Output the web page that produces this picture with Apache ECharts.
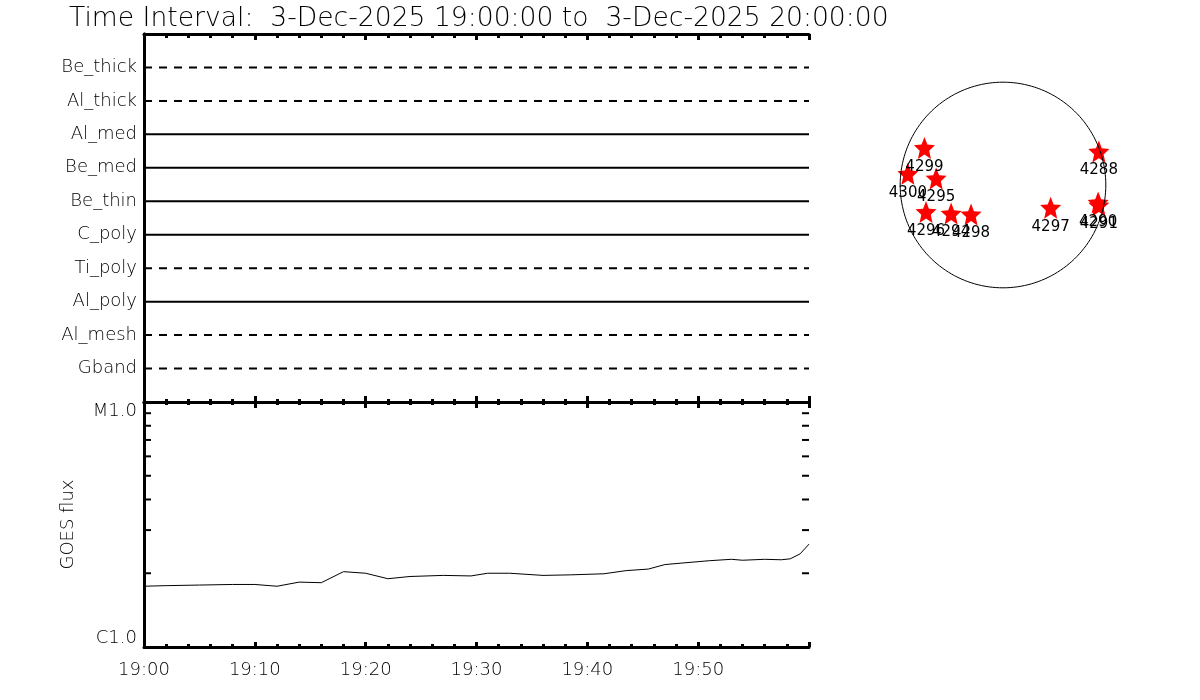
<!DOCTYPE html>
<html>
<head>
<meta charset="utf-8">
<script src="https://cdn.jsdelivr.net/npm/echarts@6/dist/echarts.min.js"></script>
<style>
html,body{margin:0;padding:0;background:#fff;}
#main{width:1200px;height:700px;}
</style>
</head>
<body>
<div id="main"></div>
<script>
// ---- data ----
const titleText = 'Time Interval:  3-Dec-2025 19:00:00 to  3-Dec-2025 20:00:00';
// filter channels, bottom to top
const channels = ['Gband', 'Al_mesh', 'Al_poly', 'Ti_poly', 'C_poly', 'Be_thin', 'Be_med', 'Al_med', 'Al_thick', 'Be_thick'];
const channelDashed = [true, true, false, true, false, false, false, false, true, true];
// time range in minutes after 19:00
const timeRange = [0, 60];
const timeLabels = ['19:00', '19:10', '19:20', '19:30', '19:40', '19:50'];
// GOES flux (W/m^2) vs minutes after 19:00
const goesTime = [0, 2, 5, 8, 10, 12, 14, 16, 18, 20, 22, 24, 27, 29.5, 31, 33, 36, 38.5, 41.5, 43.5, 45.5, 47, 48.5, 51, 53, 54, 56, 57.5, 58.3, 59.2, 60];
const goesFlux = [1.77e-6, 1.78e-6, 1.79e-6, 1.80e-6, 1.80e-6, 1.77e-6, 1.84e-6, 1.83e-6, 2.03e-6, 2.00e-6, 1.90e-6, 1.94e-6, 1.96e-6, 1.95e-6, 2.00e-6, 2.00e-6, 1.96e-6, 1.97e-6, 1.99e-6, 2.05e-6, 2.08e-6, 2.17e-6, 2.20e-6, 2.25e-6, 2.28e-6, 2.26e-6, 2.28e-6, 2.27e-6, 2.29e-6, 2.40e-6, 2.63e-6];
const fluxRange = [1e-6, 1e-5];
const fluxTickLabels = ['C1.0', 'M1.0'];
const fluxMinorTicks = [2e-6, 3e-6, 4e-6, 5e-6, 6e-6, 7e-6, 8e-6, 9e-6];
// active regions on the solar disk (arcsec)
const regionNames = ['4299', '4300', '4295', '4296', '4294', '4298', '4297', '4288', '4290', '4291'];
const regionX = [-745, -902, -634, -730, -492, -303, 452, 909, 902, 909];
const regionY = [352, 106, 62, -255, -270, -279, -215, 317, -167, -192];
const solarRadius = 975;

// ---- chart ----
const FONT = 'DejaVu Sans';
const chart = echarts.init(document.getElementById('main'));
const starPath = 'path://M50,0 L63.23,31.8 L97.55,34.55 L71.4,56.95 L79.39,90.45 L50,72.5 L20.61,90.45 L28.6,56.95 L2.45,34.55 L36.77,31.8 Z';

function xAxisDef(grid, pos, showLabels, major, minor) {
  return {
    type: 'value', gridIndex: grid, position: pos, min: timeRange[0], max: timeRange[1], interval: 10,
    axisLine: {show: true, onZero: false, lineStyle: {color: '#000', width: 3}},
    axisTick: {show: true, inside: true, length: major, lineStyle: {color: '#000', width: 3}},
    minorTick: {show: true, splitNumber: 5, length: minor, lineStyle: {color: '#000', width: 3}},
    splitLine: {show: false},
    axisLabel: showLabels ? {
      show: true, margin: 14, color: '#000', fontFamily: FONT, fontSize: 18, fontWeight: 200,
      formatter: v => timeLabels[Math.round(v / 10)] || ''
    } : {show: false}
  };
}

const series = [];
channels.forEach((name, i) => {
  series.push({
    type: 'line', xAxisIndex: 0, yAxisIndex: 0, showSymbol: false, silent: true,
    data: [[timeRange[0], i + 1], [timeRange[1], i + 1]],
    lineStyle: {color: '#000', width: 2, type: channelDashed[i] ? [8, 7] : 'solid'}
  });
});
series.push({
  type: 'line', xAxisIndex: 2, yAxisIndex: 2, showSymbol: false, silent: true,
  data: goesTime.map((t, i) => [t, goesFlux[i]]),
  lineStyle: {color: '#000', width: 1}
});
// log minor ticks on both vertical borders of the GOES panel
series.push({
  type: 'custom', xAxisIndex: 2, yAxisIndex: 2, silent: true, clip: false,
  data: fluxMinorTicks.map(v => [timeRange[0], v]),
  renderItem: (params, api) => {
    const p = api.coord([timeRange[0], api.value(1)]);
    const q = api.coord([timeRange[1], api.value(1)]);
    return {
      type: 'group', children: [
        {type: 'line', shape: {x1: p[0], y1: p[1], x2: p[0] + 7, y2: p[1]}, style: {stroke: '#000', lineWidth: 2}},
        {type: 'line', shape: {x1: q[0] - 7, y1: q[1], x2: q[0], y2: q[1]}, style: {stroke: '#000', lineWidth: 2}}
      ]
    };
  }
});
const limb = [];
for (let a = 0; a <= 360; a += 2) {
  limb.push([solarRadius * Math.cos(a * Math.PI / 180), solarRadius * Math.sin(a * Math.PI / 180)]);
}
series.push({
  type: 'line', xAxisIndex: 4, yAxisIndex: 4, showSymbol: false, silent: true,
  data: limb, lineStyle: {color: '#000', width: 1}
});
series.push({
  type: 'scatter', xAxisIndex: 4, yAxisIndex: 4, silent: true,
  symbol: starPath, symbolSize: [21, 22],
  itemStyle: {color: '#ff0000', opacity: 1},
  data: regionNames.map((n, i) => ({name: n, value: [regionX[i], regionY[i]]})),
  label: {
    show: true, position: 'inside', offset: [0, 19], formatter: p => p.name,
    color: '#000', fontFamily: FONT, fontSize: 15, fontWeight: 'normal'
  }
});

const option = {
  backgroundColor: '#fff',
  animation: false,
  title: {
    text: titleText, left: 64, top: 1,
    textStyle: {color: '#000', fontFamily: FONT, fontSize: 26.6, fontWeight: 200}
  },
  grid: [
    {left: 144, top: 34, width: 665, height: 368},
    {left: 144, top: 402, width: 665, height: 245},
    {left: 887, top: 69, width: 232, height: 232}
  ],
  xAxis: [
    xAxisDef(0, 'bottom', false, 6, 3),
    xAxisDef(0, 'top', false, 6, 4),
    xAxisDef(1, 'bottom', true, 5, 3),
    xAxisDef(1, 'top', false, 6, 3),
    {type: 'value', gridIndex: 2, min: -1100, max: 1100, show: false}
  ],
  yAxis: [
    {
      type: 'value', gridIndex: 0, position: 'left', min: 0, max: channels.length + 1, interval: 1,
      axisLine: {show: true, lineStyle: {color: '#000', width: 3}},
      axisTick: {show: false}, splitLine: {show: false},
      axisLabel: {
        show: true, margin: 7, color: '#000', fontFamily: FONT, fontSize: 18, fontWeight: 200,
        formatter: v => channels[v - 1] || ''
      }
    },
    {
      type: 'value', gridIndex: 0, position: 'right', min: 0, max: channels.length + 1,
      axisLine: {show: true, lineStyle: {color: '#000', width: 3}},
      axisTick: {show: false}, splitLine: {show: false}, axisLabel: {show: false}
    },
    {
      type: 'log', gridIndex: 1, position: 'left', min: fluxRange[0], max: fluxRange[1], logBase: 10,
      name: 'GOES flux', nameLocation: 'middle', nameGap: 67, nameRotate: 90,
      nameTextStyle: {color: '#000', fontFamily: FONT, fontSize: 18, fontWeight: 200},
      axisLine: {show: true, lineStyle: {color: '#000', width: 3}},
      axisTick: {show: false},
      splitLine: {show: false},
      axisLabel: {
        show: true, margin: 7, color: '#000', fontFamily: FONT, fontSize: 18, fontWeight: 200,
        customValues: fluxRange,
        verticalAlignMinLabel: 'bottom', verticalAlignMaxLabel: 'top',
        formatter: v => (Math.abs(v - fluxRange[0]) < 1e-9 ? fluxTickLabels[0] : (Math.abs(v - fluxRange[1]) < 1e-9 ? fluxTickLabels[1] : ''))
      }
    },
    {
      type: 'log', gridIndex: 1, position: 'right', min: fluxRange[0], max: fluxRange[1], logBase: 10,
      axisLine: {show: true, lineStyle: {color: '#000', width: 3}},
      axisTick: {show: false},
      splitLine: {show: false}, axisLabel: {show: false}
    },
    {type: 'value', gridIndex: 2, min: -1100, max: 1100, show: false}
  ],
  series: series
};
chart.setOption(option);
</script>
</body>
</html>
